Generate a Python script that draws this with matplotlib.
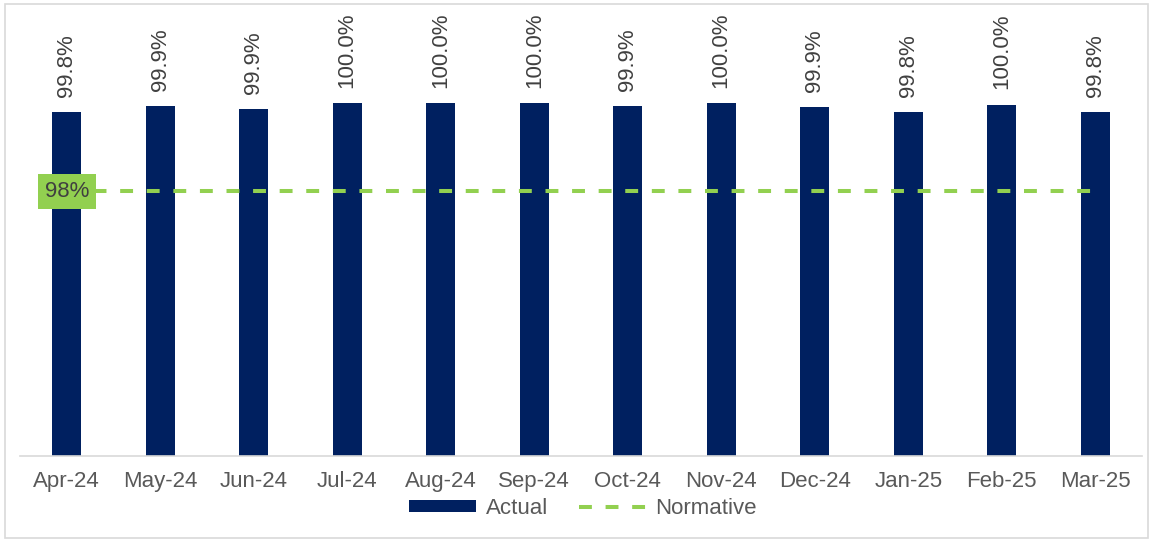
# Monthly actual vs normative percentage chart

import matplotlib.pyplot as plt
from matplotlib.patches import Rectangle
from matplotlib.lines import Line2D
from matplotlib.patches import Patch

plt.rcParams["font.family"] = ["Liberation Sans", "DejaVu Sans"]

# Data .........................................................................
months = ["Apr-24", "May-24", "Jun-24", "Jul-24", "Aug-24", "Sep-24",
          "Oct-24", "Nov-24", "Dec-24", "Jan-25", "Feb-25", "Mar-25"]
actual = [99.80, 99.93, 99.87, 100.0, 100.0, 100.0,
          99.93, 100.0, 99.91, 99.80, 99.97, 99.80]
normative = [98.0] * 12

navy = "#002060"
green = "#92D050"
txt = "#404040"

# Figure ......................................................................
fig = plt.figure(figsize=(11.53, 5.40), dpi=100)
W, H = 1153, 540
ax = fig.add_axes([20 / W, 1 - 456 / H, 1122 / W, 446 / H])

x = list(range(len(months)))
ax.bar(x, actual, width=0.31, color=navy, bottom=0, zorder=2)
ax.plot(x, normative, color=green, lw=2.9, dashes=(3.2, 3.4), zorder=3)

ax.set_ylim(92, 92 + 446 / 44.1)
ax.set_xlim(-0.5, len(months) - 0.5)

# Data labels
for xi, v in zip(x, actual):
    ax.annotate(f"{v:.1f}%", (xi, v), xytext=(0, 11), textcoords="offset points",
                rotation=90, ha="center", va="bottom", fontsize=16, color=txt)

# Normative label box
ax.text(0, normative[0], f"{normative[0]:.0f}%", ha="center", va="center",
        fontsize=16, color=txt, zorder=4,
        bbox=dict(boxstyle="square,pad=0.3", facecolor=green, edgecolor="none"))

# Axes styling
for s in ["top", "right", "left"]:
    ax.spines[s].set_visible(False)
ax.spines["bottom"].set_color("#d9d9d9")
ax.spines["bottom"].set_linewidth(1.2)
ax.set_yticks([])
ax.set_xticks(x)
ax.set_xticklabels(months, fontsize=16, color="#595959")
ax.tick_params(axis="x", length=0, pad=11)

# Legend
handles = [Patch(facecolor=navy, label="Actual"),
           Line2D([0], [0], color=green, lw=2.9, dashes=(3.2, 3.4), label="Normative")]
fig.legend(handles=handles, loc="center", bbox_to_anchor=(583 / W, 1 - 508 / H),
           ncol=2, frameon=False, fontsize=16, labelcolor="#595959",
           handlelength=3.0, handleheight=0.45, columnspacing=1.4, handletextpad=0.45)

# Chart border
fig.add_artist(Rectangle((5 / W, 2 / H), 1143 / W, 534 / H, transform=fig.transFigure,
                         fill=False, edgecolor="#d9d9d9", lw=1.2))

fig.savefig("out.png", dpi=100)
